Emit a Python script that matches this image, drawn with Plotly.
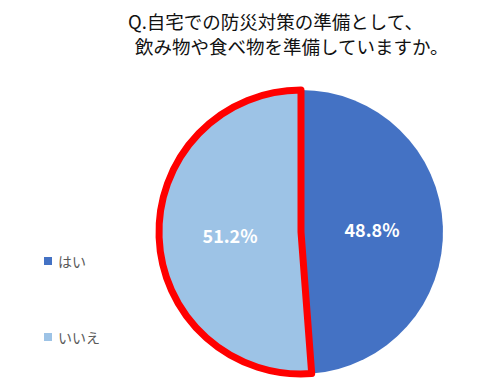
import plotly.graph_objects as go

labels = ["はい", "いいえ"]
values = [48.8, 51.2]
colors = ["#4472C4", "#9DC3E6"]
line_colors = ["rgba(0,0,0,0)", "#FF0000"]
line_widths = [0, 7]
title_lines = ["Q.自宅での防災対策の準備として、", "飲み物や食べ物を準備していますか。"]

W, H = 488, 387
cx, cy, r = 301, 232, 142

fig = go.Figure()
fig.add_trace(go.Pie(
    labels=labels, values=values, sort=False, direction="clockwise", rotation=0,
    marker=dict(colors=colors, line=dict(color=line_colors, width=line_widths)),
    texttemplate="%{value:.1f}%", textposition="inside", insidetextorientation="horizontal",
    textfont=dict(family="Noto Sans CJK JP", size=18, color="white", weight="bold"),
    showlegend=False, hoverinfo="label+percent",
    domain=dict(x=[(cx - r) / W, (cx + r) / W], y=[(H - cy - r) / H, (H - cy + r) / H]),
))

# title
fig.add_annotation(text=title_lines[0], x=126 / W, y=1 - 6 / H, xref="paper", yref="paper",
                   xanchor="left", yanchor="top", showarrow=False,
                   font=dict(family="Noto Sans CJK JP", size=18.5, color="#111111"))
fig.add_annotation(text=title_lines[1], x=133 / W, y=1 - 31 / H, xref="paper", yref="paper",
                   xanchor="left", yanchor="top", showarrow=False,
                   font=dict(family="Noto Sans CJK JP", size=18.5, color="#111111"))

# legend
leg_y = [261, 337]
for lab, col, yy in zip(labels, colors, leg_y):
    fig.add_shape(type="rect", xref="paper", yref="paper",
                  x0=44 / W, x1=52 / W, y0=1 - (yy + 4) / H, y1=1 - (yy - 4) / H,
                  fillcolor=col, line=dict(width=0))
    fig.add_annotation(text=lab, x=56 / W, y=1 - yy / H, xref="paper", yref="paper",
                       xanchor="left", yanchor="middle", showarrow=False,
                       font=dict(family="Noto Sans CJK JP", size=14, color="#595959"))

fig.update_layout(width=W, height=H, margin=dict(l=0, r=0, t=0, b=0),
                  paper_bgcolor="white", plot_bgcolor="white")
fig.write_html("out.html", config={"displayModeBar": False},
               post_script="document.body.style.margin='0';")
